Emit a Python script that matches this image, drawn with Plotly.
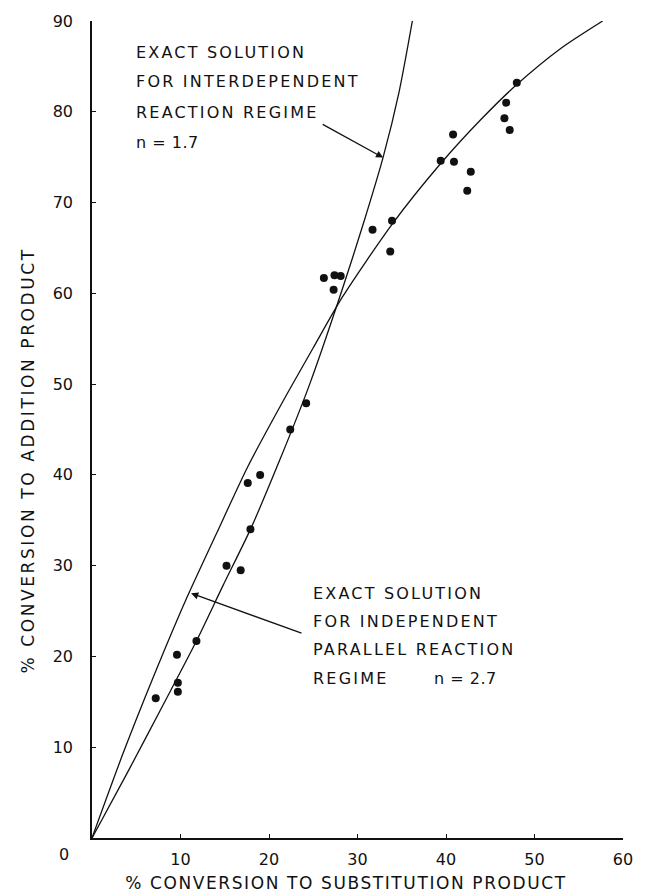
import plotly.graph_objects as go

# ---------------- data ----------------
# measured points: % conversion to substitution product (x) / addition product (y)
sub_conv = [48.0, 46.8, 46.6, 47.2, 40.8, 39.4, 40.9, 42.8, 42.4, 31.7, 33.9, 33.7,
            26.2, 27.4, 28.1, 27.3, 24.2, 22.4, 17.6, 19.0, 17.9, 15.2, 16.8, 11.8,
            9.6, 9.7, 9.7, 7.2]
add_conv = [83.2, 81.0, 79.3, 78.0, 77.5, 74.6, 74.5, 73.4, 71.3, 67.0, 68.0, 64.6,
            61.7, 62.0, 61.9, 60.4, 47.9, 45.0, 39.1, 40.0, 34.0, 30.0, 29.5, 21.7,
            20.2, 17.1, 16.1, 15.4]

# exact solution, interdependent reaction regime (n = 1.7)
interdep_x = [0, 4.0, 8.0, 11.8, 14.8, 17.9, 21.2, 24.6, 28.3, 30.7, 32.9, 34.7, 36.2]
interdep_y = [0, 7.2, 14.6, 21.7, 27.8, 34.0, 41.6, 50.0, 60.5, 67.8, 75.0, 82.2, 90.0]

# exact solution, independent parallel reaction regime (n = 2.7)
indep_x = [0, 3.5, 7.0, 10.5, 14.0, 17.6, 21.8, 25.0, 28.3, 33.9, 39.4, 44.0, 48.0, 53.0, 57.7]
indep_y = [0, 9.3, 17.9, 26.0, 33.4, 40.9, 48.5, 54.0, 59.6, 67.6, 74.3, 79.2, 83.0, 87.0, 90.0]

x_ticks = [10, 20, 30, 40, 50, 60]
y_ticks = [10, 20, 30, 40, 50, 60, 70, 80, 90]

label_interdep = ["EXACT SOLUTION", "FOR INTERDEPENDENT", "REACTION REGIME", "n = 1.7"]
label_indep = ["EXACT SOLUTION", "FOR INDEPENDENT", "PARALLEL REACTION", "REGIME"]
label_indep_n = "n = 2.7"
x_title = "% CONVERSION TO SUBSTITUTION PRODUCT"
y_title = "% CONVERSION TO ADDITION PRODUCT"

FONT = "DejaVu Sans"
BLACK = "#111111"

fig = go.Figure()
fig.add_trace(go.Scatter(x=interdep_x, y=interdep_y, mode="lines",
                         line=dict(color=BLACK, width=1.3, shape="spline", smoothing=0.7),
                         hoverinfo="skip"))
fig.add_trace(go.Scatter(x=indep_x, y=indep_y, mode="lines",
                         line=dict(color=BLACK, width=1.3, shape="spline", smoothing=0.7),
                         hoverinfo="skip"))
fig.add_trace(go.Scatter(x=sub_conv, y=add_conv, mode="markers",
                         marker=dict(color=BLACK, size=8, line=dict(width=0))))

annotations = []
# text block 1 (interdependent)
for txt, yy in zip(label_interdep, [86.5, 83.3, 79.9, 76.6]):
    annotations.append(dict(x=4.8, y=yy, xref="x", yref="y", text=txt, showarrow=False,
                            xanchor="left", yanchor="middle", align="left",
                            font=dict(family=FONT, size=16, color=BLACK)))
# text block 2 (independent)
for txt, yy in zip(label_indep, [26.95, 23.8, 20.75, 17.6]):
    annotations.append(dict(x=24.8, y=yy, xref="x", yref="y", text=txt, showarrow=False,
                            xanchor="left", yanchor="middle", align="left",
                            font=dict(family=FONT, size=16, color=BLACK)))
annotations.append(dict(x=38.4, y=17.6, xref="x", yref="y", text=label_indep_n, showarrow=False,
                        xanchor="left", yanchor="middle", align="left",
                        font=dict(family=FONT, size=16, color=BLACK)))
# arrows
annotations.append(dict(x=32.9, y=74.95, ax=25.9, ay=78.7, xref="x", yref="y", axref="x", ayref="y",
                        text="", showarrow=True, arrowhead=2, arrowsize=1.1, arrowwidth=1.3,
                        arrowcolor=BLACK, standoff=0))
annotations.append(dict(x=11.2, y=26.95, ax=23.84, ay=22.5, xref="x", yref="y", axref="x", ayref="y",
                        text="", showarrow=True, arrowhead=2, arrowsize=1.1, arrowwidth=1.3,
                        arrowcolor=BLACK, standoff=0))
# axis titles and shared origin label
annotations.append(dict(x=0.4796, y=-0.0550, xref="paper", yref="paper", text=x_title, showarrow=False,
                        xanchor="center", yanchor="middle",
                        font=dict(family=FONT, size=17, color=BLACK)))
annotations.append(dict(x=-0.1204, y=0.4628, xref="paper", yref="paper", text=y_title, showarrow=False,
                        xanchor="center", yanchor="middle", textangle=-90,
                        font=dict(family=FONT, size=17, color=BLACK)))
annotations.append(dict(x=-0.0519, y=-0.0208, xref="paper", yref="paper", text="0", showarrow=False,
                        xanchor="center", yanchor="middle",
                        font=dict(family=FONT, size=16, color=BLACK)))

fig.update_layout(
    width=645, height=894,
    margin=dict(l=92, r=13, t=19, b=56),
    paper_bgcolor="white", plot_bgcolor="white",
    showlegend=False,
    annotations=annotations,
    font=dict(family=FONT, size=16, color=BLACK),
)
fig.update_xaxes(range=[0, 60], tickvals=x_ticks, ticktext=[str(v) for v in x_ticks],
                 showgrid=False, zeroline=False, showline=True, linecolor=BLACK, linewidth=1.5,
                 ticks="inside", ticklen=4, tickwidth=1.3, tickcolor=BLACK,
                 ticklabelstandoff=6, tickfont=dict(family=FONT, size=16, color=BLACK))
fig.update_yaxes(range=[0, 90], tickvals=y_ticks, ticktext=[str(v) for v in y_ticks],
                 showgrid=False, zeroline=False, showline=True, linecolor=BLACK, linewidth=1.5,
                 ticks="inside", ticklen=4, tickwidth=1.3, tickcolor=BLACK,
                 ticklabelstandoff=14, tickfont=dict(family=FONT, size=16, color=BLACK))

post = """
document.documentElement.style.margin = '0';
document.documentElement.style.padding = '0';
document.body.style.margin = '0';
document.body.style.padding = '0';
document.body.style.overflow = 'hidden';
document.querySelectorAll('text.annotation-text').forEach(function(t){
  var s = t.textContent;
  var ls = 2.2;
  if (s.indexOf('n =') === 0) ls = 0.5;
  if (s.indexOf('% CONVERSION TO SUB') === 0) ls = 1.6;
  if (s.indexOf('% CONVERSION TO ADD') === 0) ls = 2.6;
  if (s === '0') ls = 0;
  t.style.letterSpacing = ls + 'px';
});
"""
fig.write_html("out.html", post_script=post, config={"displayModeBar": False})
